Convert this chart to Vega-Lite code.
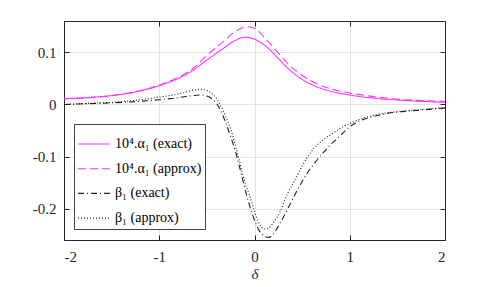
{
  "$schema": "https://vega.github.io/schema/vega-lite/v6.json",
  "width": 381,
  "height": 219,
  "autosize": "none",
  "padding": {"left": 64, "top": 21, "right": 46, "bottom": 47},
  "background": "white",
  "config": {
    "view": {"stroke": "#262626", "strokeWidth": 1},
    "font": "Liberation Serif, Times New Roman, serif",
    "axis": {
      "domainColor": "#262626",
      "tickColor": "#262626",
      "labelColor": "#262626",
      "titleColor": "#262626",
      "gridColor": "#e3e3e3",
      "labelFont": "Liberation Serif, Times New Roman, serif",
      "labelFontSize": 15,
      "titleFont": "Liberation Serif, Times New Roman, serif",
      "titleFontSize": 15,
      "titleFontWeight": "normal",
      "tickSize": -5,
      "domainWidth": 1,
      "tickWidth": 1
    },
    "legend": {
      "labelFont": "Liberation Serif, Times New Roman, serif"
    }
  },
  "data": {
    "values": [
      {"s": "10⁴.α₁ (exact)", "x": -2, "y": 0.011},
      {"s": "10⁴.α₁ (exact)", "x": -1.75, "y": 0.013},
      {"s": "10⁴.α₁ (exact)", "x": -1.5, "y": 0.017},
      {"s": "10⁴.α₁ (exact)", "x": -1.25, "y": 0.024},
      {"s": "10⁴.α₁ (exact)", "x": -1, "y": 0.036},
      {"s": "10⁴.α₁ (exact)", "x": -0.8, "y": 0.05},
      {"s": "10⁴.α₁ (exact)", "x": -0.65, "y": 0.065},
      {"s": "10⁴.α₁ (exact)", "x": -0.5, "y": 0.085},
      {"s": "10⁴.α₁ (exact)", "x": -0.33, "y": 0.107},
      {"s": "10⁴.α₁ (exact)", "x": -0.2, "y": 0.123},
      {"s": "10⁴.α₁ (exact)", "x": -0.1, "y": 0.129},
      {"s": "10⁴.α₁ (exact)", "x": 0, "y": 0.125},
      {"s": "10⁴.α₁ (exact)", "x": 0.13, "y": 0.11},
      {"s": "10⁴.α₁ (exact)", "x": 0.25, "y": 0.088},
      {"s": "10⁴.α₁ (exact)", "x": 0.37, "y": 0.066},
      {"s": "10⁴.α₁ (exact)", "x": 0.5, "y": 0.048},
      {"s": "10⁴.α₁ (exact)", "x": 0.65, "y": 0.034},
      {"s": "10⁴.α₁ (exact)", "x": 0.8, "y": 0.025},
      {"s": "10⁴.α₁ (exact)", "x": 1, "y": 0.018},
      {"s": "10⁴.α₁ (exact)", "x": 1.25, "y": 0.012},
      {"s": "10⁴.α₁ (exact)", "x": 1.5, "y": 0.0085},
      {"s": "10⁴.α₁ (exact)", "x": 1.75, "y": 0.006},
      {"s": "10⁴.α₁ (exact)", "x": 2, "y": 0.004},
      {"s": "10⁴.α₁ (approx)", "x": -2, "y": 0.011},
      {"s": "10⁴.α₁ (approx)", "x": -1.5, "y": 0.017},
      {"s": "10⁴.α₁ (approx)", "x": -1, "y": 0.037},
      {"s": "10⁴.α₁ (approx)", "x": -0.8, "y": 0.052},
      {"s": "10⁴.α₁ (approx)", "x": -0.65, "y": 0.068},
      {"s": "10⁴.α₁ (approx)", "x": -0.5, "y": 0.094},
      {"s": "10⁴.α₁ (approx)", "x": -0.33, "y": 0.12},
      {"s": "10⁴.α₁ (approx)", "x": -0.2, "y": 0.14},
      {"s": "10⁴.α₁ (approx)", "x": -0.08, "y": 0.149},
      {"s": "10⁴.α₁ (approx)", "x": 0, "y": 0.146},
      {"s": "10⁴.α₁ (approx)", "x": 0.13, "y": 0.123},
      {"s": "10⁴.α₁ (approx)", "x": 0.25, "y": 0.099},
      {"s": "10⁴.α₁ (approx)", "x": 0.37, "y": 0.075},
      {"s": "10⁴.α₁ (approx)", "x": 0.5, "y": 0.056},
      {"s": "10⁴.α₁ (approx)", "x": 0.65, "y": 0.04},
      {"s": "10⁴.α₁ (approx)", "x": 0.8, "y": 0.03},
      {"s": "10⁴.α₁ (approx)", "x": 1, "y": 0.022},
      {"s": "10⁴.α₁ (approx)", "x": 1.25, "y": 0.015},
      {"s": "10⁴.α₁ (approx)", "x": 1.5, "y": 0.01},
      {"s": "10⁴.α₁ (approx)", "x": 1.75, "y": 0.0075},
      {"s": "10⁴.α₁ (approx)", "x": 2, "y": 0.006},
      {"s": "β₁ (exact)", "x": -2, "y": 0.0},
      {"s": "β₁ (exact)", "x": -1.75, "y": 0.0015},
      {"s": "β₁ (exact)", "x": -1.5, "y": 0.003},
      {"s": "β₁ (exact)", "x": -1.25, "y": 0.0055},
      {"s": "β₁ (exact)", "x": -1, "y": 0.009},
      {"s": "β₁ (exact)", "x": -0.8, "y": 0.013},
      {"s": "β₁ (exact)", "x": -0.65, "y": 0.017},
      {"s": "β₁ (exact)", "x": -0.57, "y": 0.018},
      {"s": "β₁ (exact)", "x": -0.5, "y": 0.016},
      {"s": "β₁ (exact)", "x": -0.45, "y": 0.011},
      {"s": "β₁ (exact)", "x": -0.4, "y": 0.002},
      {"s": "β₁ (exact)", "x": -0.35, "y": -0.014},
      {"s": "β₁ (exact)", "x": -0.3, "y": -0.036},
      {"s": "β₁ (exact)", "x": -0.25, "y": -0.062},
      {"s": "β₁ (exact)", "x": -0.2, "y": -0.09},
      {"s": "β₁ (exact)", "x": -0.15, "y": -0.125},
      {"s": "β₁ (exact)", "x": -0.1, "y": -0.162},
      {"s": "β₁ (exact)", "x": -0.05, "y": -0.195},
      {"s": "β₁ (exact)", "x": 0, "y": -0.222},
      {"s": "β₁ (exact)", "x": 0.05, "y": -0.242},
      {"s": "β₁ (exact)", "x": 0.1, "y": -0.252},
      {"s": "β₁ (exact)", "x": 0.15, "y": -0.255},
      {"s": "β₁ (exact)", "x": 0.2, "y": -0.248},
      {"s": "β₁ (exact)", "x": 0.27, "y": -0.227},
      {"s": "β₁ (exact)", "x": 0.35, "y": -0.2},
      {"s": "β₁ (exact)", "x": 0.41, "y": -0.178},
      {"s": "β₁ (exact)", "x": 0.5, "y": -0.148},
      {"s": "β₁ (exact)", "x": 0.55, "y": -0.133},
      {"s": "β₁ (exact)", "x": 0.62, "y": -0.115},
      {"s": "β₁ (exact)", "x": 0.72, "y": -0.093},
      {"s": "β₁ (exact)", "x": 0.8, "y": -0.077},
      {"s": "β₁ (exact)", "x": 0.9, "y": -0.06},
      {"s": "β₁ (exact)", "x": 1, "y": -0.043},
      {"s": "β₁ (exact)", "x": 1.1, "y": -0.032},
      {"s": "β₁ (exact)", "x": 1.25, "y": -0.023},
      {"s": "β₁ (exact)", "x": 1.4, "y": -0.017},
      {"s": "β₁ (exact)", "x": 1.6, "y": -0.013},
      {"s": "β₁ (exact)", "x": 1.8, "y": -0.01},
      {"s": "β₁ (exact)", "x": 2, "y": -0.007},
      {"s": "β₁ (approx)", "x": -2, "y": 0.0},
      {"s": "β₁ (approx)", "x": -1.75, "y": 0.002},
      {"s": "β₁ (approx)", "x": -1.5, "y": 0.004},
      {"s": "β₁ (approx)", "x": -1.25, "y": 0.008},
      {"s": "β₁ (approx)", "x": -1, "y": 0.014},
      {"s": "β₁ (approx)", "x": -0.8, "y": 0.02},
      {"s": "β₁ (approx)", "x": -0.65, "y": 0.027},
      {"s": "β₁ (approx)", "x": -0.57, "y": 0.029},
      {"s": "β₁ (approx)", "x": -0.5, "y": 0.027},
      {"s": "β₁ (approx)", "x": -0.45, "y": 0.021},
      {"s": "β₁ (approx)", "x": -0.4, "y": 0.012},
      {"s": "β₁ (approx)", "x": -0.35, "y": -0.004},
      {"s": "β₁ (approx)", "x": -0.3, "y": -0.024},
      {"s": "β₁ (approx)", "x": -0.25, "y": -0.047},
      {"s": "β₁ (approx)", "x": -0.2, "y": -0.078},
      {"s": "β₁ (approx)", "x": -0.15, "y": -0.115},
      {"s": "β₁ (approx)", "x": -0.1, "y": -0.15},
      {"s": "β₁ (approx)", "x": -0.05, "y": -0.175},
      {"s": "β₁ (approx)", "x": 0, "y": -0.205},
      {"s": "β₁ (approx)", "x": 0.05, "y": -0.228},
      {"s": "β₁ (approx)", "x": 0.1, "y": -0.239},
      {"s": "β₁ (approx)", "x": 0.15, "y": -0.237},
      {"s": "β₁ (approx)", "x": 0.2, "y": -0.226},
      {"s": "β₁ (approx)", "x": 0.27, "y": -0.205},
      {"s": "β₁ (approx)", "x": 0.35, "y": -0.17},
      {"s": "β₁ (approx)", "x": 0.41, "y": -0.15},
      {"s": "β₁ (approx)", "x": 0.5, "y": -0.118},
      {"s": "β₁ (approx)", "x": 0.55, "y": -0.103},
      {"s": "β₁ (approx)", "x": 0.62, "y": -0.085},
      {"s": "β₁ (approx)", "x": 0.72, "y": -0.068},
      {"s": "β₁ (approx)", "x": 0.8, "y": -0.058},
      {"s": "β₁ (approx)", "x": 0.9, "y": -0.046},
      {"s": "β₁ (approx)", "x": 1, "y": -0.037},
      {"s": "β₁ (approx)", "x": 1.1, "y": -0.029},
      {"s": "β₁ (approx)", "x": 1.25, "y": -0.021},
      {"s": "β₁ (approx)", "x": 1.4, "y": -0.016},
      {"s": "β₁ (approx)", "x": 1.6, "y": -0.012},
      {"s": "β₁ (approx)", "x": 1.8, "y": -0.009},
      {"s": "β₁ (approx)", "x": 2, "y": -0.006}
    ]
  },
  "layer": [
    {
      "mark": {"type": "line", "strokeWidth": 1.1, "interpolate": "monotone", "clip": true},
      "encoding": {
        "x": {
          "field": "x", "type": "quantitative",
          "scale": {"domain": [-2, 2], "nice": false, "zero": false},
          "axis": {"orient": "bottom", "values": [-2, -1, 0, 1, 2], "title": "δ", "titleFontStyle": "italic", "labelPadding": 14, "titlePadding": 2, "grid": true, "labelExpr": "replace(format(datum.value, 'd'), '−', '-')"}
        },
        "y": {
          "field": "y", "type": "quantitative",
          "scale": {"domain": [-0.26, 0.16], "nice": false, "zero": false},
          "axis": {"orient": "left", "values": [-0.2, -0.1, 0, 0.1], "title": null, "labelPadding": 13, "grid": true, "labelExpr": "datum.value == 0 ? '0' : replace(format(datum.value, '.1f'), '−', '-')"}
        },
        "color": {
          "field": "s", "type": "nominal",
          "scale": {"domain": ["10⁴.α₁ (exact)", "10⁴.α₁ (approx)", "β₁ (exact)", "β₁ (approx)"], "range": ["#ff33ff", "#ff33ff", "#222222", "#222222"]},
          "legend": {
            "title": null, "orient": "none", "legendX": 10, "legendY": 103,
            "symbolType": "stroke", "symbolSize": 1024, "symbolStrokeWidth": 1.1,
            "labelFont": "Liberation Serif, Times New Roman, serif", "labelFontSize": 14, "labelColor": "#000000",
            "strokeColor": "#444444", "fillColor": "white", "padding": 3, "rowPadding": 0.7, "labelOffset": 4
          }
        },
        "strokeDash": {
          "field": "s", "type": "nominal",
          "scale": {"domain": ["10⁴.α₁ (exact)", "10⁴.α₁ (approx)", "β₁ (exact)", "β₁ (approx)"], "range": [[1, 0], [8, 4], [6, 3, 1, 3], [1, 2]]},
          "legend": null
        }
      }
    },
    {
      "mark": {"type": "point", "opacity": 0},
      "encoding": {
        "x": {"field": "x", "type": "quantitative", "axis": {"orient": "top", "values": [-2, -1, 0, 1, 2], "labels": false, "title": null, "grid": false}},
        "y": {"field": "y", "type": "quantitative", "axis": {"orient": "right", "values": [-0.2, -0.1, 0, 0.1], "labels": false, "title": null, "grid": false}}
      }
    }
  ],
  "resolve": {"axis": {"x": "independent", "y": "independent"}}
}
